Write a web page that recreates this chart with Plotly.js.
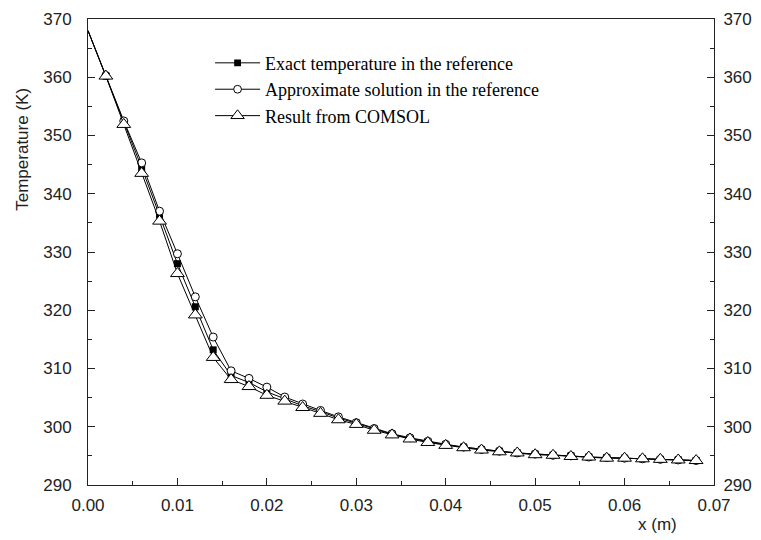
<!DOCTYPE html>
<html>
<head>
<meta charset="utf-8">
<script src="https://cdn.plot.ly/plotly-3.0.1.min.js"></script>
<style>html,body{margin:0;padding:0;background:#fff;}#chart{width:761px;height:540px;}</style>
</head>
<body>
<div id="chart"></div>
<script>
const xPos = [0.000, 0.002, 0.004, 0.006, 0.008, 0.010, 0.012, 0.014, 0.016, 0.018,
              0.020, 0.022, 0.024, 0.026, 0.028, 0.030, 0.032, 0.034, 0.036, 0.038,
              0.040, 0.042, 0.044, 0.046, 0.048, 0.050, 0.052, 0.054, 0.056, 0.058,
              0.060, 0.062, 0.064, 0.066, 0.068];
const exactTemp = [368.0, 360.2, 352.2, 344.5, 336.3, 328.0, 320.6, 313.2, 308.8, 307.6,
                   306.0, 304.8, 303.6, 302.6, 301.5, 300.6, 299.6, 298.7, 298.0, 297.4,
                   296.9, 296.5, 296.1, 295.8, 295.5, 295.3, 295.1, 295.0, 294.8, 294.7,
                   294.6, 294.5, 294.4, 294.3, 294.2];
const approxTemp = [368.0, 360.3, 352.5, 345.3, 337.0, 329.7, 322.3, 315.4, 309.6, 308.3,
                    306.8, 305.1, 303.9, 302.8, 301.7, 300.7, 299.7, 298.8, 298.1, 297.5,
                    297.0, 296.5, 296.1, 295.8, 295.5, 295.3, 295.1, 295.0, 294.8, 294.7,
                    294.6, 294.5, 294.4, 294.3, 294.2];
const comsolTemp = [368.0, 360.2, 351.9, 343.5, 335.3, 326.3, 319.2, 311.9, 308.1, 306.9,
                    305.4, 304.4, 303.3, 302.3, 301.2, 300.4, 299.4, 298.6, 297.9, 297.3,
                    296.8, 296.4, 296.0, 295.7, 295.5, 295.2, 295.1, 294.9, 294.8, 294.6,
                    294.6, 294.5, 294.4, 294.3, 294.2];
const seriesNames = ["Exact temperature in the reference",
                     "Approximate solution in the reference",
                     "Result from COMSOL"];
const xTickVals = [0, 0.01, 0.02, 0.03, 0.04, 0.05, 0.06, 0.07];
const yTickVals = [290, 300, 310, 320, 330, 340, 350, 360, 370];

function sizes(s) { return xPos.map((v, i) => i === 0 ? 0 : s); }

const traces = [
  {x: xPos, y: exactTemp, name: seriesNames[0], mode: 'lines+markers',
   line: {color: '#000', width: 1},
   marker: {symbol: 'square', size: sizes(7), color: '#000', opacity: 1, line: {color: '#000', width: 0}}},
  {x: xPos, y: approxTemp, name: seriesNames[1], mode: 'lines+markers',
   line: {color: '#000', width: 1},
   marker: {symbol: 'circle', size: sizes(8), color: '#fff', opacity: 1, line: {color: '#000', width: 1}}},
  {x: xPos, y: comsolTemp, name: seriesNames[2], mode: 'lines+markers',
   line: {color: '#000', width: 1},
   marker: {symbol: 'triangle-up', size: sizes(12), color: '#fff', opacity: 1, line: {color: '#000', width: 1}}},
  {x: [], y: [], yaxis: 'y2', showlegend: false, hoverinfo: 'skip'}
];

const tickFont = {family: 'Liberation Sans, Arial, sans-serif', size: 17, color: '#222'};

const layout = {
  width: 761, height: 540,
  margin: {l: 88, r: 47, t: 19, b: 55},
  paper_bgcolor: '#fff', plot_bgcolor: '#fff',
  showlegend: true,
  legend: {x: 0.195, y: 0.945, xanchor: 'left', yanchor: 'top',
           bgcolor: 'rgba(0,0,0,0)', borderwidth: 0, itemwidth: 45,
           font: {family: 'Liberation Serif, Times New Roman, serif', size: 18, color: '#000'},
           tracegroupgap: 0},
  xaxis: {range: [0, 0.07], tickvals: xTickVals, tickformat: '.2f',
          showgrid: false, zeroline: false, showline: true, linecolor: '#222', linewidth: 1,
          mirror: true, ticks: 'inside', ticklen: 7, tickcolor: '#222', ticklabelstandoff: 5,
          minor: {dtick: 0.005, ticks: 'inside', ticklen: 4, tickcolor: '#222', showgrid: false},
          tickfont: tickFont},
  yaxis: {range: [290, 370], tickvals: yTickVals,
          showgrid: false, zeroline: false, showline: true, linecolor: '#222', linewidth: 1,
          ticks: 'inside', ticklen: 7, tickcolor: '#222', ticklabelstandoff: 12,
          minor: {dtick: 5, ticks: 'inside', ticklen: 4, tickcolor: '#222', showgrid: false},
          tickfont: tickFont},
  yaxis2: {range: [290, 370], tickvals: yTickVals, overlaying: 'y', side: 'right',
           showgrid: false, zeroline: false, showline: true, linecolor: '#222', linewidth: 1,
           ticks: 'inside', ticklen: 7, tickcolor: '#222', ticklabelstandoff: 5,
           minor: {dtick: 5, ticks: 'inside', ticklen: 4, tickcolor: '#222', showgrid: false},
           tickfont: tickFont},
  annotations: [
    {text: 'Temperature (K)', xref: 'paper', yref: 'paper', x: -0.105, y: 0.72,
     textangle: -90, showarrow: false, xanchor: 'center', yanchor: 'middle',
     font: {family: 'Liberation Sans, Arial, sans-serif', size: 17, color: '#222'}},
    {text: 'x (m)', xref: 'paper', yref: 'paper', x: 0.91, y: -0.085,
     showarrow: false, xanchor: 'center', yanchor: 'middle',
     font: {family: 'Liberation Sans, Arial, sans-serif', size: 17, color: '#222'}}
  ]
};

Plotly.newPlot('chart', traces, layout, {displayModeBar: false, staticPlot: true});
</script>
</body>
</html>
